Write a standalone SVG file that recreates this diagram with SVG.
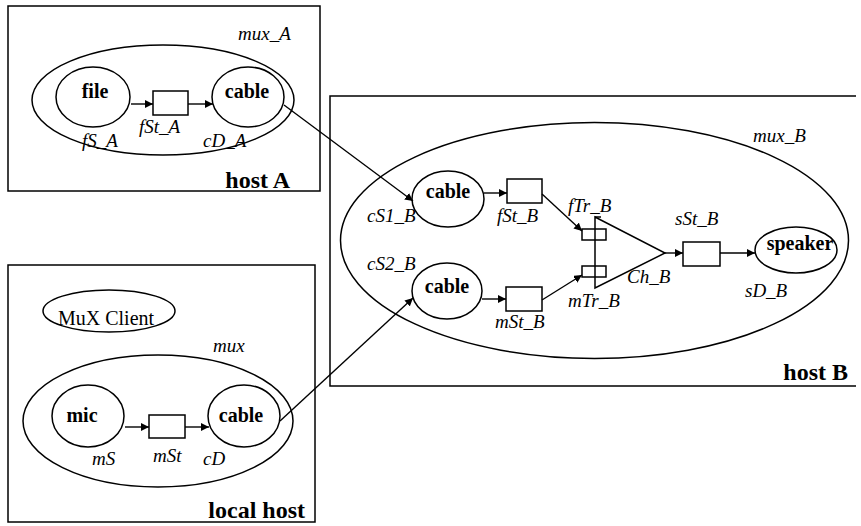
<svg xmlns="http://www.w3.org/2000/svg" width="861" height="526" viewBox="0 0 861 526">
<defs>
<marker id="ah" viewBox="0 0 10 10" refX="10" refY="5" markerWidth="8" markerHeight="8" markerUnits="userSpaceOnUse" orient="auto">
<path d="M0,0 L10,5 L0,10 z" fill="#000"/>
</marker>
<style>
.sh{fill:none;stroke:#000;stroke-width:1.5}
.nl{font-family:"Liberation Serif",serif;font-weight:bold;font-size:20px;fill:#000}
.hl{font-family:"Liberation Serif",serif;font-weight:bold;font-size:24px;fill:#000}
.il{font-family:"Liberation Serif",serif;font-style:italic;font-size:19px;fill:#000}
.rl{font-family:"Liberation Serif",serif;font-size:20px;fill:#000}
.cn{fill:none;stroke:#000;stroke-width:1.4;marker-end:url(#ah)}
</style>
</defs>
<rect width="861" height="526" fill="#fff"/>

<g id="hostA">
<rect class="sh" x="8" y="6" width="312" height="185"/>
<text class="hl" x="290" y="188" text-anchor="end">host A</text>
</g>
<g id="mux_A">
<ellipse class="sh" cx="163" cy="100" rx="131" ry="55"/>
<text class="il" x="238" y="40">mux_A</text>
</g>
<g id="fS_A">
<ellipse class="sh" cx="93" cy="97" rx="37" ry="30"/>
<text class="nl" x="95" y="98" text-anchor="middle">file</text>
<text class="il" x="82" y="147">fS_A</text>
</g>
<g id="fSt_A">
<rect class="sh" x="153" y="91" width="35" height="24"/>
<text class="il" x="139" y="133">fSt_A</text>
</g>
<g id="cD_A">
<ellipse class="sh" cx="248" cy="97" rx="36" ry="30"/>
<text class="nl" x="247" y="98" text-anchor="middle">cable</text>
<text class="il" x="203" y="147">cD_A</text>
</g>

<g id="localhost">
<rect class="sh" x="8" y="265" width="307" height="257"/>
<text class="hl" x="305" y="518" text-anchor="end">local host</text>
</g>
<g id="muxclient">
<ellipse class="sh" cx="109" cy="311" rx="66" ry="21"/>
<text class="rl" x="58" y="325">MuX Client</text>
</g>
<g id="mux">
<ellipse class="sh" cx="158" cy="421" rx="135" ry="66"/>
<text class="il" x="213" y="352">mux</text>
</g>
<g id="mS">
<ellipse class="sh" cx="88" cy="416" rx="36" ry="31"/>
<text class="nl" x="82" y="422" text-anchor="middle">mic</text>
<text class="il" x="92" y="465">mS</text>
</g>
<g id="mSt">
<rect class="sh" x="149" y="415" width="36" height="23"/>
<text class="il" x="153" y="462">mSt</text>
</g>
<g id="cD">
<ellipse class="sh" cx="244" cy="416" rx="36" ry="31"/>
<text class="nl" x="241" y="422" text-anchor="middle">cable</text>
<text class="il" x="203" y="465">cD</text>
</g>

<g id="hostB">
<path class="sh" d="M856,96 L330,96 L330,386 L856,386"/>
<text class="hl" x="848" y="380" text-anchor="end">host B</text>
</g>
<g id="mux_B">
<ellipse class="sh" cx="594.5" cy="240.5" rx="254" ry="118"/>
<text class="il" x="753" y="142">mux_B</text>
</g>
<g id="cS1_B">
<ellipse class="sh" cx="448" cy="199" rx="36" ry="28"/>
<text class="nl" x="448" y="198" text-anchor="middle">cable</text>
<text class="il" x="367" y="222">cS1_B</text>
</g>
<g id="cS2_B">
<ellipse class="sh" cx="447" cy="291" rx="35" ry="28"/>
<text class="nl" x="447" y="293" text-anchor="middle">cable</text>
<text class="il" x="367" y="270">cS2_B</text>
</g>
<g id="fSt_B">
<rect class="sh" x="507" y="179" width="35" height="24"/>
<text class="il" x="497" y="222">fSt_B</text>
</g>
<g id="mSt_B">
<rect class="sh" x="506" y="287" width="36" height="24"/>
<text class="il" x="495" y="328">mSt_B</text>
</g>
<g id="fTr_B">
<rect class="sh" x="582" y="229" width="24" height="11"/>
<text class="il" x="568" y="212">fTr_B</text>
</g>
<g id="mTr_B">
<rect class="sh" x="582" y="266" width="24" height="11"/>
<text class="il" x="568" y="307">mTr_B</text>
</g>
<g id="Ch_B">
<polygon class="sh" points="595,217 665,253 595,288"/>
<line class="sh" x1="595" y1="217" x2="601" y2="217"/>
<text class="il" x="627" y="283">Ch_B</text>
</g>
<g id="sSt_B">
<rect class="sh" x="683" y="242" width="37" height="24"/>
<text class="il" x="675" y="225">sSt_B</text>
</g>
<g id="sD_B">
<ellipse class="sh" cx="796" cy="250" rx="41" ry="23"/>
<text class="nl" x="800" y="250" text-anchor="middle">speaker</text>
<text class="il" x="745" y="297">sD_B</text>
</g>

<g id="connectors">
<line class="cn" x1="131" y1="104" x2="153" y2="104"/>
<line class="cn" x1="188" y1="104" x2="213" y2="104"/>
<line class="cn" x1="284" y1="105" x2="413" y2="201"/>
<line class="cn" x1="125" y1="427" x2="149" y2="427"/>
<line class="cn" x1="185" y1="427" x2="209" y2="427"/>
<line class="cn" x1="280" y1="421" x2="413" y2="298"/>
<line class="cn" x1="484" y1="193" x2="507" y2="193"/>
<line class="cn" x1="482" y1="299" x2="506" y2="299"/>
<line class="cn" x1="542" y1="194" x2="582" y2="231"/>
<line class="cn" x1="542" y1="300" x2="582" y2="275"/>
<line class="cn" x1="665" y1="253" x2="683" y2="253"/>
<line class="cn" x1="720" y1="253" x2="755" y2="253"/>
</g>
</svg>
